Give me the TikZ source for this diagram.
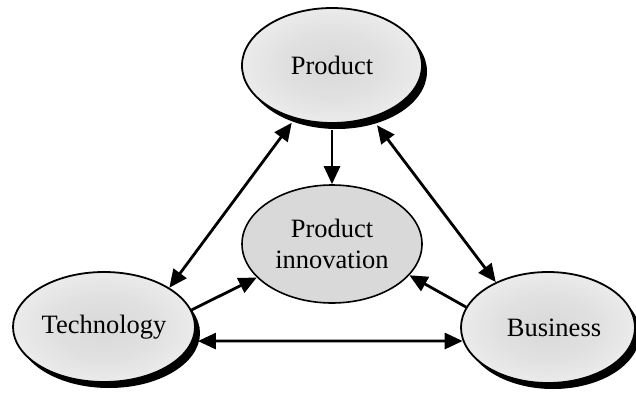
\documentclass[tikz,border=0pt]{standalone}
\usepackage{fontspec}
\setmainfont{Liberation Serif}
\usetikzlibrary{shapes.geometric,shadows,arrows.meta}
\pgfdeclareradialshading{ellshade}{\pgfpoint{0bp}{0bp}}{color(0bp)=(black!15); color(14bp)=(black!12); color(38bp)=(black!3); color(50bp)=(white)}
\begin{document}
\begin{tikzpicture}[x=1pt,y=-1pt,
  outerell/.style={ellipse, draw=black, line width=1.8pt, shading=ellshade,
    drop shadow={shadow xshift=5pt, shadow yshift=-6pt, fill=black, opacity=1},
    inner sep=0pt, font=\fontsize{26.5}{30}\selectfont},
  innerell/.style={ellipse, draw=black, line width=1.6pt, fill=black!15,
    inner sep=0pt, align=center, font=\fontsize{26.5}{31}\selectfont},
  arr/.style={line width=2.8pt, -{Triangle[length=18pt,width=16pt]}},
  darr/.style={line width=2.8pt, {Triangle[length=18pt,width=16pt]}-{Triangle[length=18pt,width=16pt]}}]
\useasboundingbox (0,0) rectangle (636,396);
\node[outerell, minimum width=180pt, minimum height=115pt] (P) at (332,65.5) {Product};
\node[outerell, minimum width=182pt, minimum height=110pt] (T) at (104,327) {Technology};
\node[outerell, minimum width=174pt, minimum height=111pt] (B) at (548,327.5) {\hspace*{12pt}Business};
\node[innerell, minimum width=180pt, minimum height=118pt] (I) at (332,244) {Product\\innovation};
\draw[darr, shorten <=5pt] (P.235) -- (T.31);
\draw[arr, shorten <=6pt] (P.270) -- (I.90);
\draw[darr, shorten <=9pt] (P.307) -- (B.139);
\draw[arr] (T.11) -- (I.204);
\draw[arr] (B.166) -- (I.338);
\draw[darr, shorten <=5pt] (T.351) -- (B.189);
\end{tikzpicture}
\end{document}
